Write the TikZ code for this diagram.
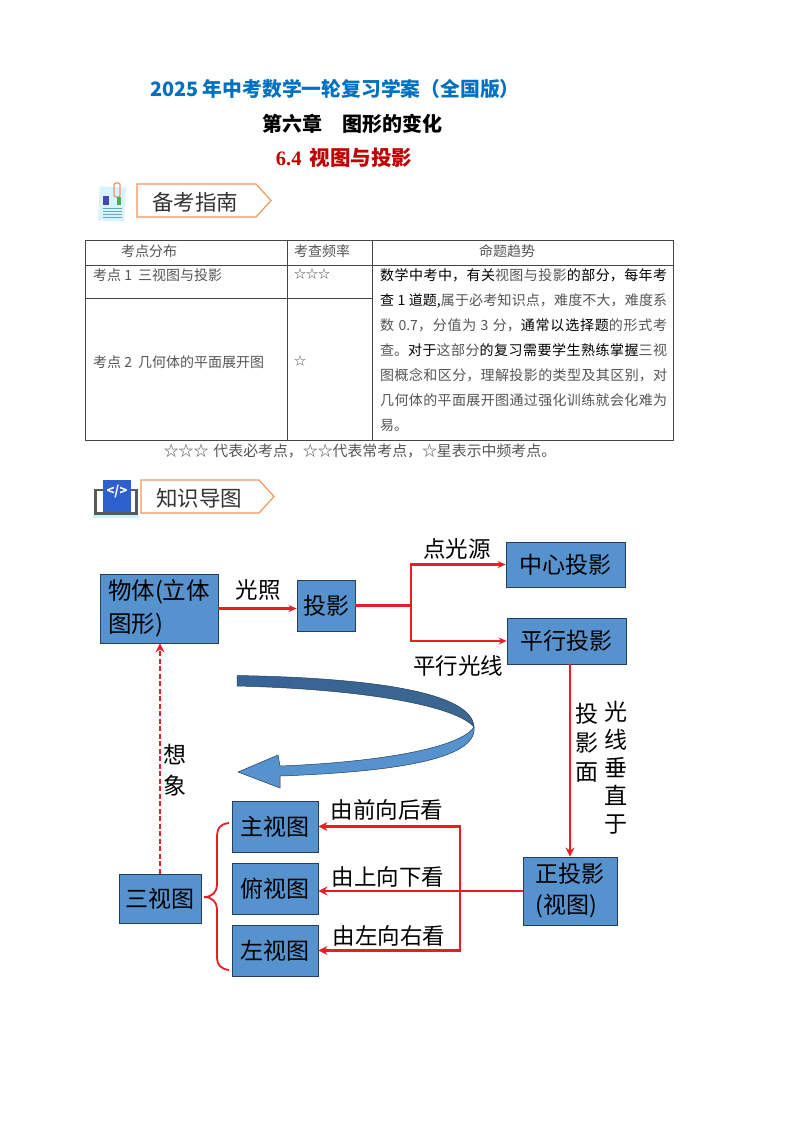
\documentclass[tikz,border=0pt]{standalone}
\usepackage{fontspec}
\setmainfont{Noto Sans CJK SC}
\newfontfamily\serifnum{Liberation Serif}
\usepackage{xcolor}
\usetikzlibrary{arrows.meta,shapes.geometric,positioning}
\XeTeXlinebreaklocale "zh"
\XeTeXlinebreakskip=0pt plus 1pt
\definecolor{boxblue}{RGB}{85, 146, 206}
\definecolor{boxline}{RGB}{38, 62, 90}
\definecolor{linkred}{RGB}{236, 28, 36}
\definecolor{titleblue}{RGB}{0, 112, 192}
\definecolor{titlered}{RGB}{192, 0, 0}
\definecolor{tabline}{RGB}{70, 70, 70}
\definecolor{tabtext}{RGB}{85, 85, 85}
\definecolor{tagorange}{RGB}{240, 150, 90}
\definecolor{ribbondark}{RGB}{55, 100, 150}
\definecolor{panelblue}{RGB}{45, 95, 205}
\newcommand{\fs}[1]{\fontsize{#1}{#1}\selectfont}
\newcommand{\dk}[1]{\textcolor{black}{#1}}
\tikzset{
    boxnode/.style={draw=boxline, fill=boxblue, line width=0.8pt, inner sep=0pt, font=\fs{23}, text=black},
    flowlabel/.style={inner sep=0pt, font=\fs{22.5}, text=black},
    cellnode/.style={inner sep=0pt, anchor=west, font=\fs{14}, text=tabtext},
    redlink/.style={draw=linkred, line width=2.4pt},
    thinlink/.style={draw=linkred, line width=1.5pt},
    tagshape/.style={draw=tagorange, fill=white, line width=1.2pt},
}
\begin{document}
\begin{tikzpicture}[x=1pt, y=-1pt, >={Stealth[length=9pt,width=9pt]}]
    \useasboundingbox (0,0) rectangle (800,1132);
    \fill[white] (0,0) rectangle (800,1132);
    % titles
    \node[inner sep=0pt, text=titleblue, font=\fs{19.8}\bfseries] (maintitle) at (335,89) {2025 年中考数学一轮复习学案（全国版）};
    \node[inner sep=0pt, font=\fs{20}\bfseries] (chaptitle) at (352,124) {第六章\hspace{20pt}图形的变化};
    \node[inner sep=0pt, text=titlered, font=\fs{20.5}\bfseries] (sectitle) at (344,158) {{\serifnum 6.4}\hspace{8pt}视图与投影};
    % first heading
    \fill[rotate around={-3:(112,202)}, fill=cyan!15] (99,187) rectangle (125,221);
    \draw[tagorange, line width=1.4pt, rounded corners=1.5pt] (114,183) rectangle (120,197);
    \fill[blue!45!gray] (103,196) rectangle (109,205);
    \fill[green!55!black!70] (117,197) rectangle (121,205);
    \foreach \yy in {208,211,214,217} \draw[cyan!45!gray, line width=0.6pt] (103,\yy) -- (122,\yy);
    \draw[tagshape] (137,184) -- (256,184) -- (271,200.5) -- (256,217) -- (137,217) -- cycle;
    \node[inner sep=0pt, font=\fs{21.5}, text=black!80] (guidetag) at (195,202) {备考指南};
    % table
    \draw[tabline, line width=0.9pt] (85,240) rectangle (673,440);
    \draw[tabline, line width=0.9pt] (85,265) -- (673,265);
    \draw[tabline, line width=0.9pt] (85,298) -- (372,298);
    \draw[tabline, line width=0.9pt] (287,240) -- (287,440);
    \draw[tabline, line width=0.9pt] (372,240) -- (372,440);
    \node[cellnode] (headone) at (121,251) {考点分布};
    \node[cellnode] (headtwo) at (294,251) {考查频率};
    \node[cellnode] (headthree) at (479,251) {命题趋势};
    \node[cellnode] (rowone) at (93,275) {考点 1\hspace{6pt}三视图与投影};
    \node[cellnode] (rowtwo) at (93,362) {考点 2\hspace{6pt}几何体的平面展开图};
    \node[cellnode, font=\fs{12}] (starone) at (294,274) {☆☆☆};
    \node[cellnode, font=\fs{12}] (startwo) at (294,361) {☆};
    \node[inner sep=0pt, anchor=north west, text width=287pt, align=justify, text=tabtext, font=\fontsize{14}{25.1}\selectfont] (trendtext) at (380,268)
        {\dk{数学中考中，有关}视图与投影\dk{的部分，每年考查 1 道题,}属于必考知识点，难度不大，难度系数 0.7，分值为 3 分，\dk{通常以选择题}的形式考查。\dk{对于}这部分\dk{的复习需要学生熟练掌握}三视图概念和区分，理解投影的类型及其区别，对几何体的平面展开图通过强化训练就会化难为易。};
    \node[inner sep=0pt, font=\fs{14.9}, text=tabtext] (legend) at (360,451) {☆☆☆\hspace{5pt}代表必考点，☆☆代表常考点，☆星表示中频考点。};
    % second heading
    \fill[cyan!20] (93,515) rectangle (139,518);
    \fill[black!65] (94,489) rectangle (138,515);
    \fill[white] (97,491) rectangle (135,512);
    \fill[panelblue] (103,480) rectangle (131,512);
    \node[inner sep=0pt, text=white, font=\fs{13}\bfseries] (codemark) at (117,491) {</>};
    \draw[tagshape] (141,480) -- (259,480) -- (274,496.5) -- (259,513) -- (141,513) -- cycle;
    \node[inner sep=0pt, font=\fs{21.5}, text=black!80] (maptag) at (199,498) {知识导图};
    % boxes
    \node[boxnode, minimum width=118pt, minimum height=69pt, align=left, font=\fontsize{23.5}{33}\selectfont] (object) at (159,608.5) {物体(立体\hspace{3pt}\\图形)};
    \node[boxnode, minimum width=58pt, minimum height=51pt] (proj) at (326,605.5) {投影};
    \node[boxnode, minimum width=119pt, minimum height=45pt] (central) at (565.5,564.5) {中心投影\hspace{12pt}};
    \node[boxnode, minimum width=119pt, minimum height=46pt] (parallel) at (566.5,641) {平行投影\hspace{12pt}};
    \node[boxnode, minimum width=82pt, minimum height=49pt] (threeview) at (160,898.5) {三视图};
    \node[boxnode, minimum width=86pt, minimum height=51pt] (frontview) at (275,826.5) {主视图};
    \node[boxnode, minimum width=86pt, minimum height=51pt] (topview) at (275,888.5) {俯视图};
    \node[boxnode, minimum width=86pt, minimum height=51pt] (leftview) at (275,950.5) {左视图};
    \node[boxnode, minimum width=94pt, minimum height=68pt, align=left, font=\fontsize{23}{31}\selectfont] (ortho) at (570,891) {正投影\hspace{11pt}\\(视图)};
    % connectors
    \coordinate (split) at (411,605.5);
    \coordinate (gather) at (460,826.5);
    \draw[redlink, ->, >={Stealth[length=8pt,width=7pt]}] (object.east) -- (object.east-|proj.west);
    \draw[redlink] (proj.east) -- (split);
    \draw[redlink, ->, >={Stealth[length=8pt,width=7pt]}] (split) |- (central.west);
    \draw[redlink, ->, >={Stealth[length=8pt,width=7pt]}] (split) |- (parallel.west);
    \draw[thinlink, ->] (parallel.south-|ortho.north) -- (ortho.north);
    \draw[thinlink, line width=1.8pt, ->] (ortho.west) -- (ortho.west-|topview.east);
    \draw[redlink, line width=2.8pt, <->] (frontview.east) -- (gather) -- (gather|-leftview.east) -- (leftview.east);
    \draw[draw=linkred, line width=1.3pt, dash pattern=on 5pt off 2.5pt, ->] (threeview.north) -- (threeview.north|-object.south);
    % brace
    \draw[linkred, line width=1.8pt] (229,823) .. controls (220,824) and (217,828) .. (217,838) -- (217,885) .. controls (217,892) and (212,897) .. (204,897) .. controls (212,897) and (217,902) .. (217,909) -- (217,958) .. controls (217,965) and (221,969) .. (229,970);
    % labels
    \node[flowlabel] (lightlabel) at (258,590) {光照};
    \node[flowlabel] (pointlabel) at (457,549) {点光源};
    \node[flowlabel] (rayslabel) at (458,666) {平行光线};
    \node[flowlabel, align=center, font=\fontsize{23}{29}\selectfont] (planelabel) at (587,743) {投\\影\\面};
    \node[flowlabel, align=center, font=\fontsize{23}{28}\selectfont] (perplabel) at (616,768) {光\\线\\垂\\直\\于};
    \node[flowlabel, align=center, font=\fontsize{23}{31}\selectfont] (imagine) at (175,770) {想\\象};
    \node[flowlabel] (fromfront) at (387,810) {由前向后看};
    \node[flowlabel] (fromtop) at (388,877) {由上向下看};
    \node[flowlabel] (fromleft) at (389,936) {由左向右看};
    % turning arrow
    \draw[boxline, line width=0.5pt, left color=ribbondark, right color=boxblue!70!black] (237,675.5) .. controls (320,677) and (472,684) .. (474,727) .. controls (455,705) and (360,689) .. (237,686) -- cycle;
    \draw[boxline, line width=0.5pt, fill=boxblue] (474,727) .. controls (460,748) and (380,762) .. (280,766) -- (278,755) -- (238,772) -- (280,788) -- (280,776) .. controls (390,772) and (478,760) .. (474,727) -- cycle;
\end{tikzpicture}
\end{document}
